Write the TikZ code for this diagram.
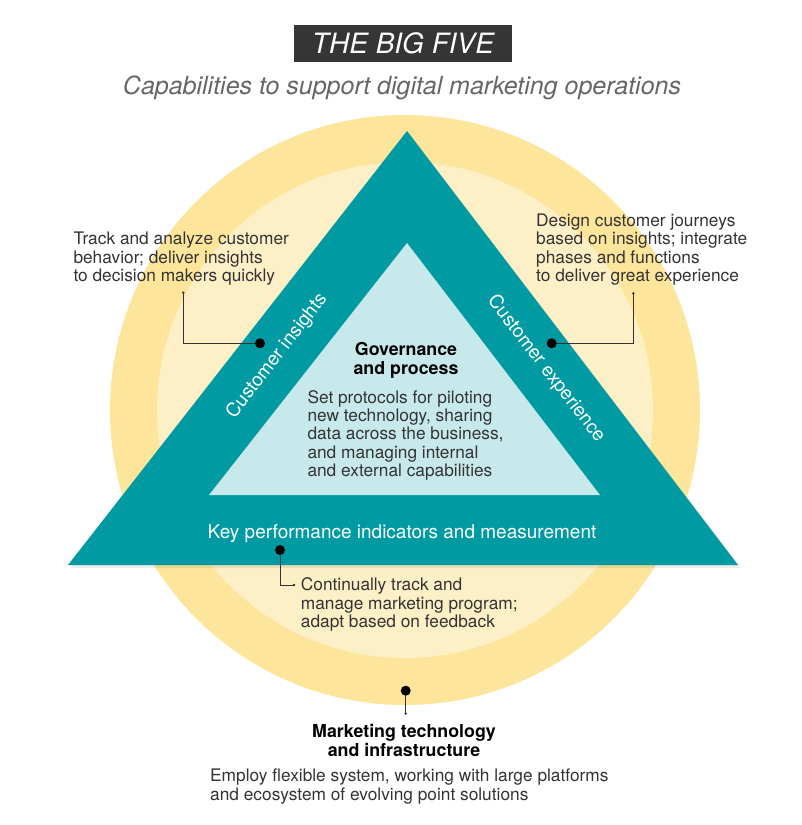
\documentclass[tikz,border=0pt]{standalone}
\usepackage{fontspec}
\setmainfont{TeX Gyre Heros}
\definecolor{tealA}{HTML}{009AA3}
\definecolor{tealL}{HTML}{C8E9EB}
\definecolor{yelO}{HTML}{FDE59B}
\definecolor{yelI}{HTML}{FEF0C6}
\definecolor{titlebg}{HTML}{353535}
\definecolor{txt}{HTML}{333333}
\definecolor{subg}{HTML}{666666}
\tikzset{
  body/.style={font=\fontsize{17.3}{18.4}\selectfont, text=txt, align=left, inner sep=0pt},
  headb/.style={font=\bfseries\fontsize{17.8}{18.6}\selectfont, text=black, align=center, inner sep=0pt},
  bandlbl/.style={font=\fontsize{19}{20}\selectfont, text=white, inner sep=0pt},
  bigdot/.style={fill=black},
  leader/.style={draw=txt, line width=0.8pt},
}
\begin{document}
\begin{tikzpicture}[x=1pt,y=-1pt]
\useasboundingbox (0,0) rectangle (801,825);
% circles
\fill[yelO] (405,410) circle (295);
\fill[yelI] (405,410) circle (248);
% triangle shadow and triangles
\fill[black,opacity=0.07] (409,133) -- (70,568) -- (741,568) -- cycle;
\fill[tealA] (407,131) -- (68,565) -- (738,565) -- cycle;
\fill[tealL] (407,243) -- (209,495) -- (600,495) -- cycle;
% title
\node[fill=titlebg, minimum width=218pt, minimum height=37pt, inner sep=0pt, text=white,
      font=\itshape\fontsize{28}{28}\selectfont] (title) at (403,43.5) {THE BIG FIVE};
\node[font=\itshape\fontsize{25}{26}\selectfont, text=subg, inner sep=0pt, anchor=base] (sub) at (402,94) {Capabilities to support digital marketing operations};
% band labels
\node[bandlbl, rotate=52.3] (ci) at (277,356) {Customer insights};
\node[bandlbl, rotate=-52.3] (cx) at (546,369) {Customer experience};
\node[bandlbl, anchor=base] (kpi) at (402,538.5) {Key performance indicators and measurement};
% governance
\node[headb, anchor=base] (gov) at (406,374.3) {Governance\\and process};
\node[body, anchor=base west] (govt) at (307.3,476.7) {Set protocols for piloting\\new technology, sharing\\data across the business,\\and managing internal\\and external capabilities};
% left callout
\node[body, anchor=base west] (ltxt) at (73.3,281.7) {Track and analyze customer\\behavior; deliver insights\\to decision makers quickly};
\coordinate (dL) at (260,343.3);
\coordinate (eL) at (183.3,292.7);
\draw[leader] (dL) -| (eL);
\fill[bigdot] (dL) circle (5);
\fill[txt] (eL) circle (1.3);
% right callout
\node[body, anchor=base west] (rtxt) at (536,281.7) {Design customer journeys\\based on insights; integrate\\phases and functions\\to deliver great experience};
\coordinate (dR) at (551.7,343.3);
\coordinate (eR) at (633.3,293.3);
\draw[leader] (dR) -| (eR);
\fill[bigdot] (dR) circle (5);
\fill[txt] (eR) circle (1.3);
% kpi callout
\node[body, anchor=base west] (ktxt) at (300.7,627.7) {Continually track and\\manage marketing program;\\adapt based on feedback};
\coordinate (dK) at (280,550);
\coordinate (eK) at (294,585);
\draw[leader] (dK) |- (eK);
\fill[bigdot] (dK) circle (5);
\fill[txt] (eK) circle (1.3);
% marketing technology
\coordinate (dM) at (405.7,690.7);
\coordinate (eM) at (405.7,713.5);
\draw[leader] (dM) -- (eM);
\fill[bigdot] (dM) circle (5);
\fill[txt] (eM) circle (1.3);
\node[headb, anchor=base] (mt) at (404,756) {Marketing technology\\and infrastructure};
\node[body, anchor=base west] (mtt) at (210,800) {Employ flexible system, working with large platforms\\and ecosystem of evolving point solutions};
\end{tikzpicture}
\end{document}
